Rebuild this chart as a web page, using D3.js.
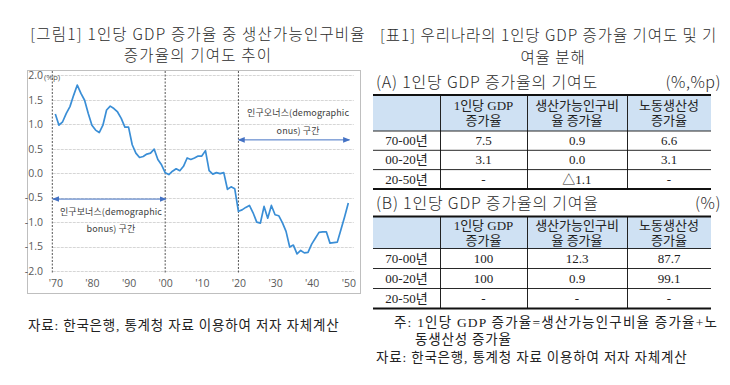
<!DOCTYPE html>
<html>
<head>
<meta charset="utf-8">
<script src="https://cdn.jsdelivr.net/npm/d3@7"></script>
<style>
  body { margin: 0; background: #fff; }
  svg { display: block; }
  .sans { font-family: "Noto Sans CJK KR", "Noto Sans", sans-serif; }
  .serif { font-family: "Liberation Serif", "Noto Sans CJK KR", serif; }
</style>
</head>
<body>
<svg id="fig" width="730" height="385"></svg>
<script>
// 생산가능인구비율 증가율의 기여도 (%p), 1970-2050
var years = d3.range(1970, 2051);
var values = [
  1.21, 0.98, 1.05, 1.22, 1.36, 1.59, 1.80, 1.63, 1.49, 1.22,
  0.98, 0.88, 0.83, 0.98, 1.29, 1.37, 1.32, 1.25, 1.12, 0.94,
  0.94, 0.58, 0.41, 0.32, 0.34, 0.39, 0.41, 0.49, 0.28, 0.17,
  0.01, -0.03, 0.04, 0.09, 0.05, 0.14, 0.31, 0.28, 0.31, 0.35,
  0.35, 0.46, 0.05, -0.02, 0.01, -0.01, 0.01, -0.33, -0.28, -0.32,
  -0.78, -0.75, -0.70, -0.66, -0.81, -1.00, -1.02, -0.68, -0.92, -0.66,
  -0.85, -0.87, -1.01, -1.19, -1.51, -1.47, -1.65, -1.58, -1.63, -1.62,
  -1.45, -1.33, -1.21, -1.20, -1.20, -1.43, -1.42, -1.41, -1.15, -0.89,
  -0.61
];
var yTicks = [2.0, 1.5, 1.0, 0.5, 0.0, -0.5, -1.0, -1.5, -2.0];
var xTicks = [1970, 1980, 1990, 2000, 2010, 2020, 2030, 2040, 2050];
var dividers = [1970, 2000, 2020];

// 표1
var headerLines = [["1인당 GDP", "증가율"], ["생산가능인구비", "율 증가율"], ["노동생산성", "증가율"]];
var periods = ["70-00년", "00-20년", "20-50년"];
var contribA = [["7.5", "0.9", "6.6"], ["3.1", "0.0", "3.1"], ["-", "△1.1", "-"]];
var shareB = [["100", "12.3", "87.7"], ["100", "0.9", "99.1"], ["-", "-", "-"]];

var svg = d3.select("#fig");
svg.append("rect").attr("width", 730).attr("height", 385).attr("fill", "#fff");

// ---------- left: chart ----------
var box = {x: 27, y: 70, w: 333, h: 223};

svg.append("g").attr("class", "sans").attr("fill", "#2b2b2b")
  .attr("font-size", 15.5).attr("font-weight", 300).attr("letter-spacing", 1.2)
  .selectAll("text")
  .data(["[그림1] 1인당 GDP 증가율 중 생산가능인구비율", "증가율의 기여도 추이"])
  .join("text")
  .attr("x", 198).attr("y", function(d, i) { return 40 + i * 21; })
  .attr("text-anchor", "middle")
  .text(function(d) { return d; });

svg.append("rect")
  .attr("x", box.x + 0.5).attr("y", box.y + 0.5)
  .attr("width", box.w).attr("height", box.h)
  .attr("fill", "none").attr("stroke", "#bfbfbf");

var x = d3.scaleLinear().domain([1970, 2050]).range([55.3, 348.3]);
var y = d3.scaleLinear().domain([-2, 2]).range([271, 75.3]);

var g = svg.append("g");

// grid
g.selectAll(".grid").data(yTicks).join("line")
  .attr("class", "grid")
  .attr("x1", x(1969.3)).attr("x2", x(2051.5))
  .attr("y1", function(d) { return Math.round(y(d)) + 0.5; })
  .attr("y2", function(d) { return Math.round(y(d)) + 0.5; })
  .attr("stroke", "#d6d6d6").attr("stroke-dasharray", "3,1");

// period dividers
g.selectAll(".div").data(dividers).join("line")
  .attr("class", "div")
  .attr("x1", function(d) { return x(d) - (d === 1970 ? 3 : 0); })
  .attr("x2", function(d) { return x(d) - (d === 1970 ? 3 : 0); })
  .attr("y1", box.y + 1).attr("y2", y(-2) + 2)
  .attr("stroke", "#555").attr("stroke-dasharray", "2,1.5");

// axes
var yAxis = g.append("g")
  .attr("transform", "translate(46,0)")
  .call(d3.axisLeft(y).tickValues(yTicks).tickSize(0).tickPadding(3)
    .tickFormat(function(d) { return d.toFixed(1); }));
yAxis.select(".domain").remove();
yAxis.selectAll("text").attr("fill", "#595959")
  .attr("font-family", "'Open Sans', 'Noto Sans', sans-serif").attr("font-size", 10.5);

var xAxis = g.append("g")
  .attr("transform", "translate(0," + y(-2) + ")")
  .call(d3.axisBottom(x).tickValues(xTicks).tickSize(0).tickPadding(9)
    .tickFormat(function(d) { return "'" + String(d).slice(2); }));
xAxis.select(".domain").remove();
xAxis.selectAll("text").attr("fill", "#595959")
  .attr("font-family", "'Open Sans', 'Noto Sans', sans-serif").attr("font-size", 10.5);

g.append("text").attr("x", 44).attr("y", 80)
  .attr("font-family", "'Open Sans', sans-serif").attr("font-size", 8)
  .attr("fill", "#595959").text("(%p)");

// line
var line = d3.line()
  .x(function(d, i) { return x(years[i]); })
  .y(function(d) { return y(d); });

g.append("path")
  .datum(values)
  .attr("d", line)
  .attr("fill", "none")
  .attr("stroke", "#3a8ed6")
  .attr("stroke-width", 1.7)
  .attr("stroke-linejoin", "round");

// arrows
svg.append("defs").append("marker")
  .attr("id", "head")
  .attr("viewBox", "0 0 10 10")
  .attr("refX", 9).attr("refY", 5)
  .attr("markerWidth", 7).attr("markerHeight", 7)
  .attr("markerUnits", "userSpaceOnUse")
  .attr("orient", "auto-start-reverse")
  .append("path").attr("d", "M0,1L10,5L0,9Z").attr("fill", "#4472c4");

var spans = [
  {from: 1969.3, to: 2000.2, v: -0.53, cx: 1985.2, lines: ["인구보너스(demographic", "bonus) 구간"], dy: [16, 33]},
  {from: 2020, to: 2050.3, v: 0.68, cx: 2036.3, lines: ["인구오너스(demographic", "onus) 구간"], dy: [-24, -6]}
];

spans.forEach(function(s) {
  var ay = y(s.v);
  g.append("line")
    .attr("x1", x(s.from)).attr("x2", x(s.to))
    .attr("y1", ay).attr("y2", ay)
    .attr("stroke", "#4472c4").attr("stroke-width", 1)
    .attr("marker-start", "url(#head)").attr("marker-end", "url(#head)");
  g.selectAll(null).data(s.lines).join("text")
    .attr("class", "sans")
    .attr("x", x(s.cx)).attr("y", function(d, i) { return ay + s.dy[i]; })
    .attr("text-anchor", "middle")
    .attr("font-size", 9).attr("fill", "#404040")
    .attr("letter-spacing", 0.1)
    .text(function(d) { return d; });
});

svg.append("text").attr("class", "serif")
  .attr("x", 28).attr("y", 330).attr("font-size", 13.5).attr("fill", "#222")
  .attr("letter-spacing", 0.8)
  .text("자료: 한국은행, 통계청 자료 이용하여 저자 자체계산");

// ---------- right: tables ----------
svg.append("g").attr("class", "sans").attr("fill", "#2b2b2b")
  .attr("font-size", 15.5).attr("font-weight", 300).attr("letter-spacing", 0.95)
  .selectAll("text")
  .data(["[표1] 우리나라의 1인당 GDP 증가율 기여도 및 기", "여율 분해"])
  .join("text")
  .attr("x", function(d, i) { return i === 0 ? 380 : 553; })
  .attr("y", function(d, i) { return 41 + i * 22; })
  .attr("text-anchor", function(d, i) { return i === 0 ? "start" : "middle"; })
  .text(function(d) { return d; });

var colX = [373, 440, 527, 627, 711];

function drawTable(label, unit, labelY, top, hH, rowH, rows) {
  var t = svg.append("g");
  t.append("text").attr("class", "sans").attr("x", 376).attr("y", labelY)
    .attr("font-size", 16).attr("font-weight", 300).attr("letter-spacing", 0.8)
    .attr("fill", "#2b2b2b").text(label);
  t.append("text").attr("class", "sans").attr("x", 721).attr("y", labelY)
    .attr("text-anchor", "end").attr("letter-spacing", 0.5)
    .attr("font-size", 16).attr("font-weight", 300).attr("fill", "#2b2b2b").text(unit);

  var ys = [top, top + hH];
  rows.forEach(function(r, i) { ys.push(top + hH + rowH * (i + 1)); });
  var bottom = ys[ys.length - 1];

  t.append("rect").attr("x", colX[0]).attr("y", top)
    .attr("width", colX[4] - colX[0]).attr("height", hH).attr("fill", "#cfe1f3");

  t.selectAll(".v").data(colX.slice(1, 4)).join("line")
    .attr("x1", function(d) { return d + 0.5; }).attr("x2", function(d) { return d + 0.5; })
    .attr("y1", top).attr("y2", bottom)
    .attr("stroke", "#222").attr("stroke-width", 1);

  t.selectAll(".h").data(ys).join("line")
    .attr("x1", colX[0]).attr("x2", colX[4])
    .attr("y1", function(d) { return d; }).attr("y2", function(d) { return d; })
    .attr("stroke", "#111")
    .attr("stroke-width", function(d, i) { return (i === 0 || i === ys.length - 1) ? 2 : 0.9; });

  headerLines.forEach(function(hl, c) {
    var cx = (colX[c + 1] + colX[c + 2]) / 2;
    hl.forEach(function(txt, k) {
      t.append("text").attr("class", "serif")
        .attr("x", cx).attr("y", top + hH / 2 - 3 + k * 15)
        .attr("text-anchor", "middle").attr("font-size", 13).attr("fill", "#222")
        .text(txt);
    });
  });

  rows.forEach(function(r, i) {
    var cy = top + hH + rowH * i + rowH / 2 + 4.5;
    t.append("text").attr("class", "serif")
      .attr("x", (colX[0] + colX[1]) / 2).attr("y", cy)
      .attr("text-anchor", "middle").attr("font-size", 13).attr("fill", "#222")
      .text(periods[i]);
    r.forEach(function(v, c) {
      t.append("text").attr("class", "serif")
        .attr("x", (colX[c + 1] + colX[c + 2]) / 2).attr("y", cy)
        .attr("text-anchor", "middle").attr("font-size", 13).attr("fill", "#222")
        .text(v);
    });
  });
}

drawTable("(A) 1인당 GDP 증가율의 기여도", "(%,%p)", 88, 95, 36, 19.3, contribA);
drawTable("(B) 1인당 GDP 증가율의 기여율", "(%)", 209, 216.5, 32, 20, shareB);

svg.append("g").attr("class", "serif").attr("font-size", 13.5).attr("fill", "#222")
  .selectAll("text")
  .data([
    {t: "주: 1인당 GDP 증가율=생산가능인구비율 증가율+노", x: 394, y: 327, ls: 1.2},
    {t: "동생산성 증가율", x: 415, y: 344, ls: 0.8},
    {t: "자료: 한국은행, 통계청 자료 이용하여 저자 자체계산", x: 376, y: 362, ls: 0.8}
  ])
  .join("text")
  .attr("x", function(d) { return d.x; }).attr("y", function(d) { return d.y; })
  .attr("letter-spacing", function(d) { return d.ls; })
  .text(function(d) { return d.t; });
</script>
</body>
</html>
